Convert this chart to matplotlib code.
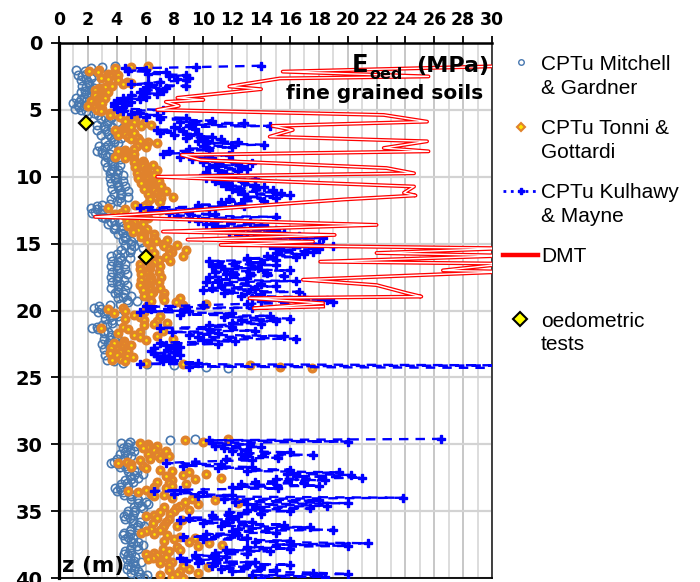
import numpy as np
import matplotlib
matplotlib.use("Agg")
import matplotlib.pyplot as plt

plt.rcParams['font.family'] = ['Liberation Sans', 'DejaVu Sans']

# CPTu profiles are sampled every 0.1 m, upper part from 1.7 m, lower part from 29.6 m
dz = 0.1
z_top_start = 1.7
z_bot_start = 29.6

# E_oed (MPa) - Mitchell & Gardner
mitchell_top = [
    3.9, 3.0, 2.2, 1.2, 1.8, 2.6, 1.9, 1.3, 1.6, 2.2,
    1.9, 1.5, 2.0, 2.5, 2.1, 1.6, 1.9, 2.4, 2.2, 1.8,
    1.5, 1.9, 2.2, 1.7, 1.2, 1.5, 1.9, 1.4, 1.0, 1.3,
    1.7, 1.4, 1.1, 1.5, 1.9, 2.4, 2.0, 2.7, 3.2, 3.6,
    2.9, 3.4, 4.0, 3.3, 2.6, 3.1, 3.7, 3.2, 2.6, 3.3,
    3.9, 3.4, 2.9, 3.6, 4.3, 3.8, 3.2, 3.8, 4.1, 3.4,
    2.8, 3.2, 3.6, 3.0, 2.6, 3.0, 3.5, 3.2, 3.3, 3.8,
    4.2, 3.6, 3.2, 3.7, 4.2, 3.8, 3.3, 3.7, 4.1, 3.6,
    3.5, 4.0, 4.4, 3.9, 3.5, 3.9, 4.4, 4.0, 3.6, 4.1,
    4.6, 4.1, 3.7, 4.2, 4.8, 4.3, 3.8, 4.3, 4.8, 4.2,
    3.6, 4.0, 4.3, 3.5, 3.0, 2.6, 2.2, 2.6, 3.0, 2.5,
    2.3, 2.9, 3.4, 3.0, 3.2, 3.8, 4.2, 3.6, 3.4, 3.9,
    4.4, 3.9, 3.8, 4.3, 4.9, 4.4, 4.1, 4.6, 5.2, 4.6,
    4.4, 5.0, 5.7, 5.0, 4.6, 5.2, 5.8, 5.0, 4.3, 4.9,
    4.5, 4.0, 3.6, 4.2, 4.9, 4.3, 3.7, 4.1, 4.6, 4.0,
    3.6, 4.1, 4.6, 4.0, 3.7, 4.2, 4.7, 4.1, 3.6, 4.0,
    4.5, 4.0, 3.7, 4.2, 4.7, 4.1, 3.6, 4.1, 4.6, 4.1,
    3.9, 4.5, 5.0, 4.4, 4.1, 4.7, 5.4, 4.8, 4.2, 3.5,
    2.8, 2.4, 2.9, 3.3, 2.7, 3.1, 3.6, 4.1, 3.5, 3.2,
    3.7, 4.2, 3.7, 3.3, 3.0, 2.6, 2.3, 2.7, 3.1, 3.4,
    3.1, 3.6, 4.0, 3.5, 3.1, 3.5, 3.9, 3.4, 3.0, 3.5,
    4.0, 3.5, 3.1, 3.6, 4.1, 3.6, 3.2, 3.7, 4.3, 3.7,
    3.3, 3.8, 4.4, 6.1, 8.0, 10.2, 11.7,
]
mitchell_bot = [
    9.4, 7.7, 4.9, 4.3, 4.8, 5.3, 4.7, 4.4, 4.9, 5.2,
    4.6, 4.2, 4.7, 5.0, 4.5, 4.0, 4.4, 3.8, 3.6, 4.1,
    4.6, 4.2, 4.7, 5.2, 4.8, 5.4, 5.8, 5.2, 4.9, 5.5,
    5.0, 4.6, 5.1, 4.7, 4.3, 4.8, 4.2, 3.9, 4.3, 4.0,
    4.4, 4.9, 4.5, 5.0, 5.4, 5.0, 5.5, 6.0, 5.5, 6.2,
    5.7, 5.2, 5.8, 5.3, 4.8, 5.2, 4.7, 5.1, 4.5, 4.9,
    4.6, 5.1, 5.6, 5.1, 5.5, 5.9, 5.4, 5.0, 5.5, 4.9,
    4.5, 4.9, 4.4, 4.8, 5.1, 4.6, 5.0, 5.5, 5.1, 5.8,
    5.4, 5.0, 5.5, 4.9, 4.6, 5.0, 4.5, 4.8, 5.3, 4.9,
    4.7, 5.2, 5.7, 5.1, 4.8, 5.3, 5.0, 4.7, 5.2, 5.5,
    5.0, 5.6, 6.1, 5.5, 5.9,
]

# E_oed (MPa) - Tonni & Gottardi
tonni_top = [
    6.2, 5.0, 3.9, 2.8, 2.1, 2.7, 3.4, 4.1, 3.5, 2.9,
    3.4, 4.1, 4.7, 5.0, 4.4, 3.7, 3.2, 2.8, 2.5, 2.9,
    3.4, 3.0, 2.5, 2.9, 3.2, 2.7, 2.2, 2.6, 3.0, 2.5,
    2.0, 2.5, 3.0, 2.6, 2.9, 3.5, 3.9, 3.5, 4.2, 4.9,
    5.3, 4.6, 5.2, 5.9, 6.4, 5.7, 5.0, 4.4, 3.9, 4.6,
    5.2, 4.6, 4.1, 4.8, 5.5, 5.0, 5.6, 6.2, 6.8, 6.0,
    5.4, 6.0, 5.2, 4.6, 4.1, 4.6, 5.2, 4.5, 3.9, 4.6,
    5.2, 5.8, 5.2, 5.9, 6.5, 5.8, 5.3, 6.0, 6.8, 6.1,
    5.4, 6.0, 6.6, 6.0, 5.5, 6.2, 6.9, 6.3, 5.7, 6.4,
    7.1, 6.5, 5.9, 6.6, 7.4, 6.8, 6.2, 7.0, 7.9, 7.1,
    6.3, 6.9, 7.0, 6.1, 5.3, 5.9, 3.4, 4.6, 7.0, 5.8,
    4.3, 3.9, 4.6, 5.4, 6.2, 5.5, 4.7, 5.2, 5.8, 5.0,
    4.8, 5.5, 6.1, 5.5, 5.1, 5.9, 6.6, 5.9, 5.7, 6.6,
    7.5, 6.7, 6.1, 7.2, 8.2, 7.3, 6.4, 7.6, 8.8, 7.8,
    6.6, 7.6, 8.6, 7.4, 6.1, 6.9, 7.7, 6.6, 5.6, 6.3,
    7.0, 6.3, 5.6, 6.2, 6.9, 6.2, 5.7, 6.3, 7.1, 6.4,
    5.7, 6.3, 6.9, 6.2, 5.6, 6.3, 7.0, 6.4, 5.8, 6.5,
    7.3, 6.4, 5.9, 7.2, 8.4, 7.3, 6.4, 8.1, 10.2, 8.6,
    6.1, 4.4, 3.4, 4.6, 5.9, 3.8, 5.2, 7.0, 5.6, 4.6,
    5.9, 6.8, 7.5, 6.6, 5.9, 4.4, 2.9, 4.8, 7.2, 5.6,
    4.1, 5.2, 6.8, 5.6, 7.9, 6.0, 4.5, 3.8, 4.4, 5.0,
    4.3, 3.6, 4.1, 4.8, 4.2, 3.5, 4.0, 4.7, 5.1, 4.3,
    3.7, 4.6, 6.0, 8.6, 13.2, 15.3, 17.5,
]
tonni_bot = [
    11.7, 8.7, 10.0, 5.6, 6.2, 6.8, 6.1, 5.8, 6.6, 7.4,
    6.9, 6.2, 6.8, 7.6, 7.0, 6.3, 5.6, 4.7, 4.1, 5.0,
    5.8, 5.0, 6.0, 7.0, 7.8, 9.0, 10.2, 8.6, 7.4, 11.2,
    9.4, 7.8, 6.8, 7.6, 8.8, 7.8, 6.6, 7.4, 6.0, 4.8,
    5.5, 6.4, 7.3, 6.6, 7.8, 9.2, 10.8, 8.7, 12.4, 9.6,
    8.4, 7.3, 8.1, 9.0, 8.0, 7.0, 7.7, 6.6, 6.0, 6.8,
    7.6, 8.5, 7.4, 6.5, 7.3, 8.2, 7.2, 6.4, 7.0, 6.0,
    5.7, 6.6, 7.5, 8.4, 9.4, 8.0, 7.3, 9.0, 10.4, 11.3,
    9.6, 8.2, 7.2, 8.4, 7.6, 6.6, 6.0, 6.8, 7.4, 6.5,
    6.2, 7.0, 7.8, 7.0, 7.6, 8.6, 10.3, 9.0, 7.6, 8.4,
    9.6, 8.2, 7.0, 7.8, 8.6,
]

# E_oed (MPa) - Kulhawy & Mayne
kulhawy_top = [
    14.0, 9.5, 4.6, 6.0, 4.8, 7.4, 6.2, 8.8, 7.6, 9.0,
    8.2, 8.8, 7.0, 6.2, 5.0, 8.8, 6.0, 7.4, 6.0, 7.2,
    5.6, 6.8, 5.0, 6.0, 4.4, 5.6, 4.0, 5.0, 3.8, 4.6,
    3.8, 4.4, 4.0, 7.2, 4.4, 5.6, 5.0, 6.8, 6.0, 8.8,
    7.0, 10.6, 8.4, 12.8, 9.0, 14.6, 8.0, 9.4, 6.8, 8.6,
    7.0, 9.6, 8.0, 10.6, 8.8, 11.2, 9.6, 12.4, 10.2, 14.2,
    10.0, 12.0, 9.0, 10.4, 7.6, 9.0, 7.2, 11.8, 8.4, 10.6,
    9.2, 12.0, 10.0, 13.4, 10.8, 12.6, 10.4, 13.0, 11.0, 12.4,
    10.2, 11.6, 10.0, 12.0, 10.2, 13.6, 10.8, 12.8, 11.2, 13.6,
    11.6, 14.2, 12.0, 14.8, 12.4, 15.4, 12.8, 16.0, 13.0, 15.0,
    11.8, 14.2, 11.2, 12.6, 9.6, 12.8, 5.6, 10.4, 6.4, 9.0,
    7.6, 10.8, 8.2, 15.0, 9.0, 12.0, 9.6, 13.2, 10.2, 14.0,
    10.8, 14.4, 11.2, 15.0, 11.8, 15.6, 12.4, 16.6, 13.0, 18.3,
    13.6, 17.0, 14.0, 18.0, 14.6, 19.0, 15.0, 18.0, 15.4, 17.6,
    15.0, 17.0, 14.4, 16.4, 13.0, 15.0, 10.4, 14.0, 11.0, 15.0,
    10.6, 13.8, 11.4, 16.0, 10.8, 14.4, 11.6, 15.6, 10.4, 13.0,
    11.0, 16.4, 10.2, 14.0, 11.2, 15.0, 10.6, 13.6, 10.0, 16.6,
    11.4, 14.0, 12.6, 17.0, 13.4, 18.6, 14.0, 19.0, 13.0, 10.0,
    6.0, 13.4, 6.4, 9.0, 5.6, 12.0, 8.4, 14.6, 11.4, 16.0,
    12.6, 15.0, 12.0, 14.0, 10.4, 12.0, 7.0, 10.4, 13.6, 7.8,
    11.0, 9.0, 15.6, 9.6, 16.4, 10.0, 12.2, 7.0, 11.0, 7.4,
    8.4, 6.6, 8.2, 6.4, 8.0, 6.6, 8.4, 6.8, 7.6, 7.0,
    8.0, 7.2, 9.6, 5.6, 31.0, 9.0, 32.0,
]
kulhawy_bot = [
    26.5, 10.4, 20.0, 10.6, 13.2, 10.8, 14.0, 11.4, 13.0, 12.0,
    16.0, 12.6, 17.6, 13.0, 15.2, 11.6, 13.4, 9.4, 7.4, 11.2,
    8.6, 13.4, 11.0, 16.0, 13.0, 19.4, 15.8, 20.2, 16.4, 21.0,
    15.0, 18.4, 13.6, 17.0, 12.6, 18.0, 12.0, 15.2, 8.4, 6.6,
    10.0, 8.0, 12.0, 9.6, 23.8, 11.4, 18.0, 12.2, 20.0, 13.0,
    18.6, 13.6, 17.4, 13.0, 16.0, 11.8, 14.0, 10.6, 12.4, 9.0,
    12.0, 8.4, 13.4, 10.0, 15.6, 11.2, 17.4, 12.4, 19.0, 12.0,
    15.0, 10.2, 12.4, 8.6, 13.0, 10.0, 16.0, 13.6, 21.4, 15.0,
    20.0, 13.0, 16.0, 11.6, 14.6, 10.8, 13.0, 9.4, 11.6, 8.4,
    11.0, 8.8, 13.6, 9.6, 16.0, 10.6, 14.0, 11.2, 15.0, 12.0,
    17.6, 20.0, 13.4, 18.4, 14.0,
]

# DMT profile (MPa, m)
dmt_e = [31.0, 15.5, 25.6, 15.3, 11.8, 14.0, 8.2, 10.0, 7.4, 8.3, 6.8,
         22.5, 25.5, 14.8, 16.2, 14.6, 25.5, 22.5, 25.6, 8.5, 9.8,
         22.7, 24.6, 6.8, 24.6, 23.9, 24.7, 19.7, 7.0, 2.5, 22.0,
         7.2, 19.1, 8.9, 17.6, 11.2, 31.0, 22.0, 31.0, 18.1, 31.0,
         26.6, 31.0, 16.9, 22.0, 24.1, 25.1, 13.2, 18.3, 13.5, 18.3]
dmt_z = [1.72, 2.14, 2.5, 2.65, 3.25, 3.45, 4.1, 4.25, 4.4, 4.7, 5.0,
         5.38, 5.88, 6.2, 6.5, 7.0, 7.35, 7.85, 8.1, 8.37, 8.75,
         9.35, 9.74, 10.0, 10.73, 11.2, 11.4, 11.7, 12.7, 13.0, 13.6,
         14.1, 14.35, 14.7, 14.85, 15.1, 15.35, 15.7, 15.9, 16.35, 16.5,
         17.0, 17.1, 17.7, 18.1, 18.7, 18.96, 19.08, 19.45, 19.83, 19.7]

# oedometric tests
oed_e = [1.85, 6.0]
oed_z = [6.0, 16.0]


def depths(start, values):
    return start + dz * np.arange(len(values))


fig = plt.figure(figsize=(7, 5.82), dpi=100)
ax = fig.add_axes([59 / 700, 4 / 582, 433 / 700, 535 / 582])

ax.set_xlim(0, 30)
ax.set_ylim(40, 0)

# grid: every 1 MPa vertically, every 5 m horizontally
ax.set_xticks(np.arange(0, 31, 2))
ax.set_xticks(np.arange(1, 30, 2), minor=True)
ax.set_yticks(np.arange(0, 41, 5))
ax.grid(which='major', axis='x', color='#c3c3c3', lw=1.3)
ax.grid(which='minor', axis='x', color='#dadada', lw=1.3)
ax.grid(which='major', axis='y', color='#d3d3d3', lw=1.6)
ax.set_axisbelow(True)

ax.xaxis.tick_top()
ax.tick_params(axis='x', which='major', direction='out', length=5, width=1.3, pad=5)
ax.tick_params(axis='y', which='major', direction='out', length=6, width=1.3, pad=6)
ax.tick_params(which='minor', length=0)
for lbl in ax.get_xticklabels():
    lbl.set_fontfamily('DejaVu Sans')
    lbl.set_fontweight('bold')
    lbl.set_fontsize(12.5)
for lbl in ax.get_yticklabels():
    lbl.set_fontfamily('DejaVu Sans')
    lbl.set_fontweight('bold')
    lbl.set_fontsize(14)

ax.spines['left'].set_linewidth(2.3)
ax.spines['top'].set_linewidth(1.8)
ax.spines['right'].set_linewidth(1.3)
ax.spines['bottom'].set_linewidth(1.3)
ax.spines['right'].set_color('#333333')

mitchell_style = dict(ls='none', marker='o', ms=6.0, mfc='none', mec='#4878b0', mew=1.2)
tonni_style = dict(ls='none', marker='o', ms=4.6, mfc='#ffe600', mec='#e0822c', mew=2.6)
kulhawy_style = dict(color='#0000ff', ls=(0, (4, 3)), lw=1.7, marker='P', ms=5.8,
                     mfc='#0000ff', mec='#0000ff')

for start, vals in [(z_top_start, mitchell_top), (z_bot_start, mitchell_bot)]:
    ax.plot(vals, depths(start, vals), zorder=3, **mitchell_style)
for start, vals in [(z_top_start, tonni_top), (z_bot_start, tonni_bot)]:
    ax.plot(vals, depths(start, vals), zorder=4, **tonni_style)
for start, vals in [(z_top_start, kulhawy_top), (z_bot_start, kulhawy_bot)]:
    ax.plot(vals, depths(start, vals), zorder=5, **kulhawy_style)

# DMT drawn as a double red line
ax.plot(dmt_e, dmt_z, color='#ff0000', lw=2.8, solid_joinstyle='round', zorder=6)
ax.plot(dmt_e, dmt_z, color='white', lw=1.0, solid_joinstyle='round', zorder=7)

ax.plot(oed_e, oed_z, ls='none', marker='D', ms=7.5, mfc='#ffff00', mec='black',
        mew=1.6, zorder=8)

# annotation and legend laid out in pixel coordinates
ov = fig.add_axes([0, 0, 1, 1])
ov.set_xlim(0, 700)
ov.set_ylim(582, 0)
ov.axis('off')

bold = dict(family='DejaVu Sans', fontweight='bold', va='baseline')
ov.text(352, 72, 'E', fontsize=17.5, ha='left', **bold)
ov.text(369, 79, 'oed', fontsize=11.5, ha='left', **bold)
ov.text(489, 72, '(MPa)', fontsize=16, ha='right', **bold)
ov.text(483, 99, 'fine grained soils', fontsize=14.5, ha='right', **bold)
ov.text(62, 572, 'z (m)', fontsize=15.5, ha='left', **bold)

legend_lines = [
    (70, 'CPTu Mitchell'), (94, '& Gardner'),
    (134.5, 'CPTu Tonni &'), (158, 'Gottardi'),
    (198, 'CPTu Kulhawy'), (221.5, '& Mayne'),
    (262, 'DMT'),
    (327, 'oedometric'), (350.5, 'tests'),
]
for y, s in legend_lines:
    ov.text(541, y, s, fontsize=15, ha='left', va='baseline')

ov.plot([521], [62], ls='none', marker='o', ms=4, mfc='none', mec='#4878b0', mew=1.0)
ov.plot([521], [127], ls='none', marker='D', ms=4, mfc='#ffe600', mec='#e0822c', mew=1.5)
ov.plot([503, 537], [191, 191], color='#0000ff', ls=':', lw=2.0)
ov.plot([521], [191], ls='none', marker='P', ms=4.5, mfc='#0000ff', mec='#0000ff')
ov.plot([503, 538], [255, 255], color='#ff0000', lw=3.2)
ov.plot([520], [319], ls='none', marker='D', ms=7, mfc='#ffff00', mec='black', mew=1.5)

fig.savefig('out.png', dpi=100)
plt.close(fig)
